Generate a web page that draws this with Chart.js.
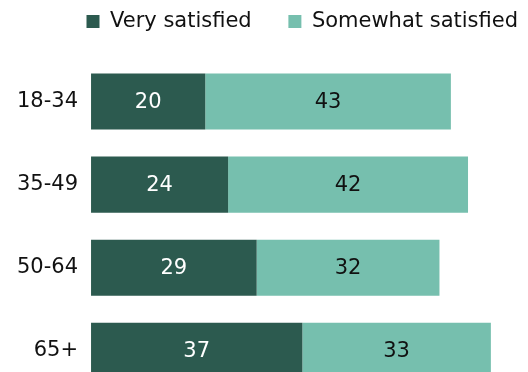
<!DOCTYPE html>
<html>
<head>
<meta charset="utf-8">
<script src="https://cdn.jsdelivr.net/npm/chart.js@4"></script>
<style>
    html, body { margin: 0; padding: 0; background: #fff; overflow: hidden; }
    #satisfaction-chart { display: block; }
</style>
</head>
<body>
<canvas id="satisfaction-chart" width="528" height="418"></canvas>
<script>
'use strict';

const ageGroups = ['18-34', '35-49', '50-64', '65+'];
const verySatisfied = [20, 24, 29, 37];
const somewhatSatisfied = [43, 42, 32, 33];

const darkGreen = '#2c5a4f';
const lightGreen = '#76bfae';
const fontFamily = '"DejaVu Sans", Verdana, sans-serif';

// draws the value in the middle of each bar segment
const barValueLabels = {
    id: 'barValueLabels',
    afterDatasetsDraw(chart) {
        const ctx = chart.ctx;
        ctx.save();
        ctx.font = '21px ' + fontFamily;
        ctx.textAlign = 'center';
        ctx.textBaseline = 'middle';
        chart.data.datasets.forEach((dataset, i) => {
            const meta = chart.getDatasetMeta(i);
            ctx.fillStyle = dataset.labelColor;
            meta.data.forEach((bar, index) => {
                const center = bar.getCenterPoint();
                ctx.fillText(String(dataset.data[index]), center.x, center.y + 1);
            });
        });
        ctx.restore();
    },
};

// leaves some room between the legend and the bars
const legendSpacing = {
    id: 'legendSpacing',
    beforeInit(chart) {
        const originalFit = chart.legend.fit;
        chart.legend.fit = function () {
            originalFit.bind(chart.legend)();
            this.height += 18;
        };
    },
};

const chartElement = document.getElementById('satisfaction-chart');
const satisfactionChart = new Chart(chartElement, {
    type: 'bar',
    data: {
        labels: ageGroups,
        datasets: [
            {
                label: 'Very satisfied',
                data: verySatisfied,
                backgroundColor: darkGreen,
                labelColor: '#ffffff',
            },
            {
                label: 'Somewhat satisfied',
                data: somewhatSatisfied,
                backgroundColor: lightGreen,
                labelColor: '#111111',
            },
        ],
    },
    options: {
        indexAxis: 'y',
        responsive: false,
        animation: false,
        datasets: {
            bar: {
                barPercentage: 1,
                categoryPercentage: 0.675,
            },
        },
        layout: {
            padding: { left: 4, right: 0, top: 1, bottom: 0 },
        },
        scales: {
            x: {
                stacked: true,
                display: false,
                min: 0,
                max: 76.5,
            },
            y: {
                stacked: true,
                grid: { display: false, drawTicks: false },
                border: { display: false },
                ticks: {
                    padding: 13,
                    color: '#111111',
                    font: { family: fontFamily, size: 21 },
                },
            },
        },
        plugins: {
            legend: {
                display: true,
                position: 'top',
                align: 'end',
                labels: {
                    boxWidth: 13,
                    boxHeight: 13,
                    padding: 10,
                    color: '#111111',
                    font: { family: fontFamily, size: 21 },
                    generateLabels(chart) {
                        const items = Chart.defaults.plugins.legend.labels.generateLabels(chart);
                        items.forEach((item, i) => {
                            if (i < items.length - 1) item.text += '    ';
                        });
                        return items;
                    },
                },
            },
            tooltip: { enabled: false },
        },
    },
    plugins: [barValueLabels, legendSpacing],
});
</script>
</body>
</html>
